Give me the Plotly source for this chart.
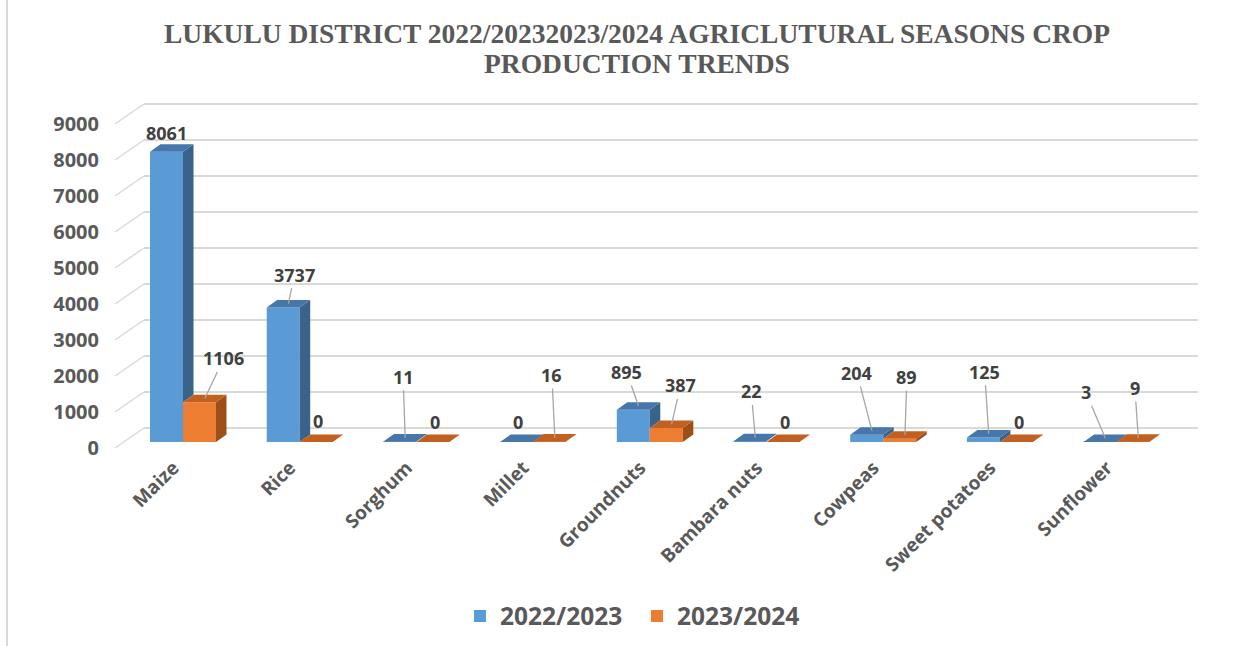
import plotly.graph_objects as go

# ---------------- data ----------------
categories = ["Maize", "Rice", "Sorghum", "Millet", "Groundnuts",
              "Bambara nuts", "Cowpeas", "Sweet potatoes", "Sunflower"]
series_names = ["2022/2023", "2023/2024"]
values_2022 = [8061, 3737, 11, 0, 895, 22, 204, 125, 3]
values_2023 = [1106, 0, 0, 16, 387, 0, 89, 0, 9]
y_ticks = [0, 1000, 2000, 3000, 4000, 5000, 6000, 7000, 8000, 9000]
title_line1 = "LUKULU DISTRICT 2022/20232023/2024 AGRICLUTURAL SEASONS CROP"
title_line2 = "PRODUCTION TRENDS"

# ---------------- styles / geometry (pixels) ----------------
W, H = 1251, 646
CAT_STEP = 116.7        # px between categories
X0_PX = 183.0           # px of first category centre (bar plane)
BASE_PX = 442.0         # px of value 0 (bar plane)
PX_PER_UNIT = 0.036     # px per unit value
BAR_W_PX = 33.0
DEPTH_DX, DEPTH_DY = 10.5, 7.5          # bar depth (px)
FRONT_DX, FRONT_DY = -9.65, 6.0         # front plane vs bar plane
BACK_DX, BACK_DY = 19.35, -14.0         # back wall vs bar plane
GRID_RIGHT_PX = 1198.0
CENTER_X = 637.0 / W                     # horizontal centre of title/legend

BLUE, ORANGE = "#5B9BD5", "#ED7D31"
BLUE_TOP, BLUE_SIDE = "#4676AA", "#3A6389"
ORANGE_TOP, ORANGE_SIDE = "#C2611F", "#9D4F19"
GRID = "#D9D9D9"
TXT = "#595959"
LBL = "#404040"

# label offsets (px) relative to top-face centre, and leader-line flags
lab_dx_1 = [-5, 6, -2, -3.5, -12, -4, -15, -4, -19.5]
lab_dy_1 = [-15, -29, -61, -16.5, -34, -46, -58, -62, -46]
lead_1 = [False, True, True, False, True, True, True, True, True]
lab_dx_2 = [19, -3.5, -3, -3, 9, -3, 2, -3, -3.5]
lab_dy_2 = [-40, -17, -16.5, -62.7, -39, -16.5, -58, -16.5, -50]
lead_2 = [True, False, False, True, True, False, True, False, True]


def dx(px):
    return px / CAT_STEP


def dy(px):
    return -px / PX_PER_UNIT


bw = dx(BAR_W_PX)
ddx, ddy = dx(DEPTH_DX), dy(-DEPTH_DY)  # upward depth is positive value
n = len(categories)
idx = list(range(n))

x_range = [(0 - X0_PX) / CAT_STEP, (W - X0_PX) / CAT_STEP]
y_range = [(BASE_PX - H) / PX_PER_UNIT, BASE_PX / PX_PER_UNIT]
front_base = BASE_PX + FRONT_DY
y2_range = [(front_base - H) / PX_PER_UNIT, front_base / PX_PER_UNIT]

fig = go.Figure()

blue_x = [i - bw / 2 for i in idx]
orange_x = [i + bw / 2 for i in idx]

fig.add_trace(go.Bar(x=blue_x, y=values_2022, width=bw, name=series_names[0],
                     marker=dict(color=BLUE, line=dict(width=0)), hoverinfo="skip"))
fig.add_trace(go.Bar(x=orange_x, y=values_2023, width=bw, name=series_names[1],
                     marker=dict(color=ORANGE, line=dict(width=0)), hoverinfo="skip"))


def top_faces(xc, vals):
    xs, ys = [], []
    for c, v in zip(xc, vals):
        xl, xr = c - bw / 2, c + bw / 2
        xs += [xl, xl + ddx, xr + ddx, xr, xl, None]
        ys += [v, v + ddy, v + ddy, v, v, None]
    return xs, ys


def side_faces(xc, vals, lows):
    xs, ys = [], []
    for c, v, lo in zip(xc, vals, lows):
        if lo >= v:
            continue
        xr = c + bw / 2
        xs += [xr, xr + ddx, xr + ddx, xr, xr, None]
        ys += [lo, lo + ddy, v + ddy, v, lo, None]
    return xs, ys


def poly(xs, ys, color):
    return go.Scatter(x=xs, y=ys, mode="lines", fill="toself", fillcolor=color,
                      line=dict(width=0, color=color), hoverinfo="skip",
                      showlegend=False)


# blue side hidden below the neighbouring orange bar's height
bx, by = side_faces(blue_x, values_2022, [max(v, 0) for v in values_2023])
fig.add_trace(poly(bx, by, BLUE_SIDE))
tx, ty = top_faces(blue_x, values_2022)
fig.add_trace(poly(tx, ty, BLUE_TOP))
ox, oy = side_faces(orange_x, values_2023, [0] * n)
fig.add_trace(poly(ox, oy, ORANGE_SIDE))
tx, ty = top_faces(orange_x, values_2023)
fig.add_trace(poly(tx, ty, ORANGE_TOP))

# dummy trace so the front-plane value axis is drawn
fig.add_trace(go.Scatter(x=[None], y=[None], yaxis="y2", showlegend=False,
                         hoverinfo="skip"))

# back-wall gridlines and the diagonal connectors
shapes = []
gx1 = dx(GRID_RIGHT_PX - X0_PX)
fx0 = dx(X0_PX - CAT_STEP / 2 + FRONT_DX - X0_PX)
bx0 = dx(X0_PX - CAT_STEP / 2 + BACK_DX - X0_PX)
for t in y_ticks:
    yb = t + dy(BACK_DY)
    yf = t + dy(FRONT_DY)
    shapes.append(dict(type="line", xref="x", yref="y", x0=bx0, x1=gx1,
                       y0=yb, y1=yb, line=dict(color=GRID, width=2),
                       layer="below"))
    shapes.append(dict(type="line", xref="x", yref="y", x0=fx0, x1=bx0,
                       y0=yf, y1=yb, line=dict(color=GRID, width=1.5),
                       layer="below"))
# outer border line at left
shapes.append(dict(type="line", xref="paper", yref="paper", x0=7 / W, x1=7 / W,
                   y0=0, y1=1, line=dict(color=GRID, width=2)))

# data labels
annotations = []
for xc, vals, ldx, ldy, lead in [(blue_x, values_2022, lab_dx_1, lab_dy_1, lead_1),
                                 (orange_x, values_2023, lab_dx_2, lab_dy_2, lead_2)]:
    for c, v, ax, ay, ld in zip(xc, vals, ldx, ldy, lead):
        tipx = c + ddx / 2
        tipy = v + ddy / 2
        a = dict(x=tipx, y=tipy, xref="x", yref="y", text=str(v),
                 font=dict(family="Open Sans", size=18, color=LBL, weight="bold"))
        if ld:
            a.update(showarrow=True, ax=ax, ay=ay, axref="pixel", ayref="pixel",
                     arrowhead=0, arrowwidth=1.3, arrowcolor="#A6A6A6", standoff=0)
        else:
            a.update(showarrow=False, xshift=ax, yshift=-ay)
        annotations.append(a)

# title second line (tighter line spacing than <br> gives)
title_font = dict(family="Liberation Serif", size=27.5, color=TXT, weight="bold")
annotations.append(dict(text=title_line2, xref="paper", yref="paper",
                        x=CENTER_X, y=1 - 63 / H, xanchor="center",
                        yanchor="middle", showarrow=False, font=title_font))

front_ticks = [i + dx(FRONT_DX) for i in idx]

fig.update_layout(
    width=W, height=H, autosize=False,
    margin=dict(l=0, r=0, t=0, b=0),
    paper_bgcolor="white", plot_bgcolor="rgba(0,0,0,0)",
    barmode="overlay",
    title=dict(text=title_line1, x=CENTER_X, xanchor="center", y=1 - 33 / H,
               yanchor="middle", font=title_font),
    xaxis=dict(range=x_range, domain=[0, 1], anchor="free",
               position=(H - 452) / H, tickmode="array", tickvals=front_ticks,
               ticktext=categories, tickangle=-45, showgrid=False,
               zeroline=False, showline=False, ticks="",
               tickfont=dict(family="Open Sans", size=19, color=TXT,
                             weight="bold"), fixedrange=True),
    yaxis=dict(range=y_range, domain=[0, 1], showgrid=False, zeroline=False,
               showticklabels=False, showline=False, ticks="", fixedrange=True),
    yaxis2=dict(range=y2_range, overlaying="y", anchor="free",
                position=99 / W, side="left", tickmode="array",
                tickvals=y_ticks, showgrid=False, zeroline=False,
                showline=False, ticks="",
                tickfont=dict(family="Open Sans", size=20, color=TXT,
                              weight="bold"), fixedrange=True),
    legend=dict(orientation="h", x=CENTER_X, xanchor="center",
                y=(H - 616) / H, yanchor="middle", entrywidth=132,
                font=dict(family="Open Sans", size=24.5, color=TXT, weight="bold"),
                bgcolor="rgba(0,0,0,0)"),
    shapes=shapes,
    annotations=annotations,
)

fig.write_html("out.html")
